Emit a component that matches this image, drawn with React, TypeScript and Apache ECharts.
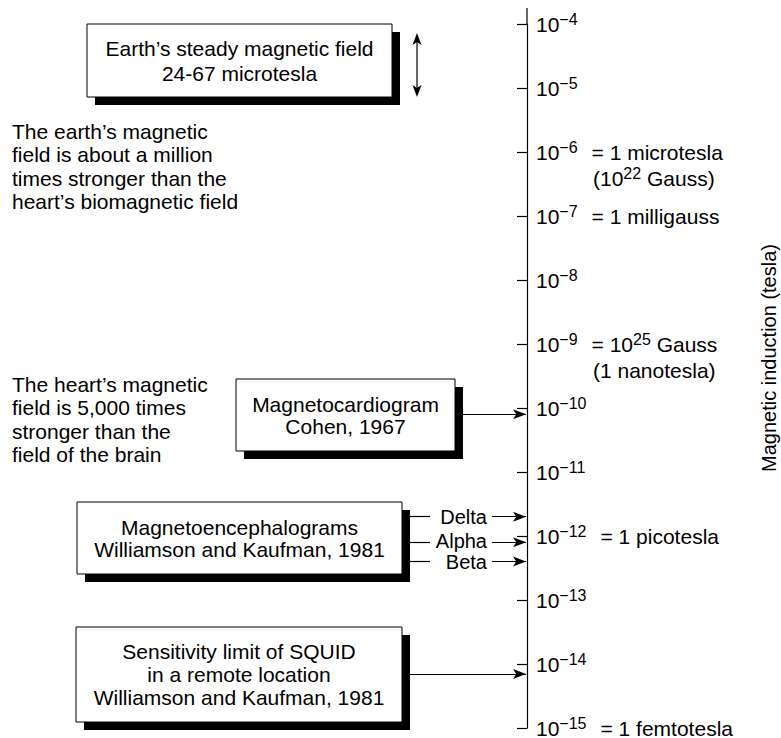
import React, { useEffect, useRef } from 'react';
import * as echarts from 'echarts';

const CHART_W = 781;
const CHART_H = 738;
const FONT = '"Liberation Sans", Arial, Helvetica, sans-serif';
const INK = '#000';

// ---------------- data ----------------
const axisMin = 1e-15;
const axisMax = 1e-4;
const axisTitle = 'Magnetic induction (tesla)';
const noteExponents = [-6, -7, -9, -12, -15];
const noteFirstLines = ['= 1 microtesla', '= 1 milligauss', '= 10^25 Gauss', '= 1 picotesla', '= 1 femtotesla'];
const noteSecondLines = ['(10^22 Gauss)', '', '(1 nanotesla)', '', ''];

const earthBoxLines = ['Earth\u2019s steady magnetic field', '24-67 microtesla'];
const earthNoteLines = ['The earth\u2019s magnetic', 'field is about a million', 'times stronger than the', 'heart\u2019s biomagnetic field'];
const heartNoteLines = ['The heart\u2019s magnetic', 'field is 5,000 times', 'stronger than the', 'field of the brain'];
const mcgBoxLines = ['Magnetocardiogram', 'Cohen, 1967'];
const mcgValue = 8e-11;
const megBoxLines = ['Magnetoencephalograms', 'Williamson and Kaufman, 1981'];
const megBands = ['Delta', 'Alpha', 'Beta'];
const megValues = [2e-12, 8e-13, 4e-13];
const squidBoxLines = ['Sensitivity limit of SQUID', 'in a remote location', 'Williamson and Kaufman, 1981'];
const squidValue = 7e-15;

// ---------------- layout ----------------
const AXIS_X = 527;
const GRID_TOP = 24;
const GRID_BOTTOM = 10;
const AXIS_TOP_Y = 8;
const SHADOW = 8;
const ARROW_TIP_X = 526;
const ARROW_W = 7.5;
const ARROW_H = 13;
const BOX_EARTH = { x: 87, y: 24, w: 305, h: 73, lh: 25 };
const BOX_MCG = { x: 236, y: 379, w: 219, h: 72, lh: 22 };
const BOX_MEG = { x: 77, y: 502, w: 325, h: 72, lh: 22 };
const BOX_SQUID = { x: 76, y: 627, w: 326, h: 95, lh: 23 };
const MEG_STUB = [410, 430];
const MEG_ARROW_START = 492;
const MEG_LABEL_DY = [0, -1, 1];
const EARTH_ARROW = { x: 417, y1: 33, y2: 97 };
const NOTE_X = 12;
const NOTE_LH = 23.3;
const EARTH_NOTE_TOP = 120;
const HEART_NOTE_TOP = 373;

const supify = (s: string) => s.replace(/\^(\d+)/g, '{ss|$1}');

function boxElements(b: { x: number; y: number; w: number; h: number; lh: number }, lines: string[]) {
  return [
    { type: 'rect', shape: { x: b.x + SHADOW, y: b.y + SHADOW, width: b.w, height: b.h }, style: { fill: INK }, silent: true },
    { type: 'rect', shape: { x: b.x, y: b.y, width: b.w, height: b.h }, style: { fill: '#fff', stroke: INK, lineWidth: 1 }, silent: true },
    {
      type: 'text', x: b.x + b.w / 2, y: b.y + b.h / 2, silent: true,
      style: { text: lines.join('\n'), fill: INK, fontSize: 21, fontFamily: FONT, align: 'center', verticalAlign: 'middle', lineHeight: b.lh },
    },
  ];
}

function noteElement(lines: string[], top: number) {
  return {
    type: 'text', x: NOTE_X, y: top, silent: true,
    style: { text: lines.join('\n'), fill: INK, fontSize: 21, fontFamily: FONT, align: 'left', verticalAlign: 'top', lineHeight: NOTE_LH },
  };
}

function arrowHead(x: number, y: number, dir: number) {
  // dir = -1 points up, 1 points down
  return {
    type: 'polygon', silent: true,
    shape: { points: [[x, y], [x - 4.5, y - dir * 12], [x, y - dir * 9], [x + 4.5, y - dir * 12]] },
    style: { fill: INK },
  };
}

function arrowLine(x1: number, x2: number, v: number, extra: any = {}) {
  return [
    { coord: [x1, v], symbol: 'none', ...extra },
    { coord: [x2, v], symbol: 'arrow' },
  ];
}

function stubLine(x1: number, x2: number, v: number) {
  return [
    { coord: [x1, v], symbol: 'none' },
    { coord: [x2, v], symbol: 'none' },
  ];
}

const markLineData: any[] = [
  arrowLine(BOX_MCG.x + BOX_MCG.w + SHADOW, ARROW_TIP_X, mcgValue),
  arrowLine(BOX_SQUID.x + BOX_SQUID.w + SHADOW, ARROW_TIP_X, squidValue),
  ...megValues.map((v) => stubLine(MEG_STUB[0], MEG_STUB[1], v)),
  ...megValues.map((v, i) =>
    arrowLine(MEG_ARROW_START, ARROW_TIP_X, v, {
      label: {
        show: true, position: 'start', formatter: megBands[i], color: INK,
        fontSize: 20, lineHeight: 17, fontFamily: FONT, distance: 5, offset: [0, MEG_LABEL_DY[i]],
      },
    })
  ),
];

function tickLabel(v: number) {
  const e = Math.round(Math.log10(v));
  const head = `10{sup|\u2212${-e}}`;
  const i = noteExponents.indexOf(e);
  if (i < 0) return head;
  const l1 = `${head}{gap| }${supify(noteFirstLines[i])}`;
  if (!noteSecondLines[i]) return l1;
  return `{ph| }\n${l1}\n{ind| }${supify(noteSecondLines[i])}`;
}

const supStyle = { fontSize: 16, lineHeight: 15, verticalAlign: 'top', color: INK, fontFamily: FONT };

export default function App() {
  const ref = useRef<HTMLDivElement>(null);
  useEffect(() => {
    document.body.style.margin = '0';
    const chart = echarts.init(ref.current!, null, { renderer: 'svg' });
    const option: any = {
      animation: false,
      backgroundColor: '#fff',
      textStyle: { fontFamily: FONT, color: INK },
      grid: {
        left: 0,
        right: CHART_W - AXIS_X,
        top: GRID_TOP,
        bottom: GRID_BOTTOM,
        containLabel: false,
        outerBoundsMode: 'none',
      },
      xAxis: { type: 'value', min: 0, max: AXIS_X, show: false },
      yAxis: {
        type: 'log',
        logBase: 10,
        min: axisMin,
        max: axisMax,
        interval: 1,
        splitNumber: 11,
        position: 'right',
        axisLine: { show: true, onZero: false, lineStyle: { color: INK, width: 1.2 } },
        axisTick: { show: true, inside: true, length: 10, lineStyle: { color: INK, width: 1.2 } },
        splitLine: { show: false },
        minorTick: { show: false },
        axisLabel: {
          show: true,
          margin: 9,
          color: INK,
          fontSize: 21,
          lineHeight: 26,
          fontFamily: FONT,
          align: 'left',
          formatter: tickLabel,
          rich: {
            sup: supStyle,
            ss: supStyle,
            gap: { width: 14 },
            ind: { width: 57 },
            ph: { lineHeight: 26 },
          },
        },
        name: axisTitle,
        nameLocation: 'middle',
        nameRotate: 90,
        nameGap: 232,
        nameTextStyle: { color: INK, fontSize: 20, lineHeight: 20, fontFamily: FONT, padding: [0, 0, 0, 36] },
      },
      series: [
        {
          type: 'line',
          data: [],
          silent: true,
          markLine: {
            silent: true,
            animation: false,
            symbol: ['none', 'arrow'],
            symbolSize: [ARROW_W, ARROW_H],
            lineStyle: { color: INK, width: 1.2, type: 'solid' },
            itemStyle: { color: INK },
            label: { show: false },
            emphasis: { disabled: true },
            data: markLineData,
          },
        },
      ],
      graphic: {
        elements: [
          { type: 'line', silent: true, shape: { x1: AXIS_X, y1: AXIS_TOP_Y, x2: AXIS_X, y2: GRID_TOP }, style: { stroke: INK, lineWidth: 1.2 } },
          ...boxElements(BOX_EARTH, earthBoxLines),
          ...boxElements(BOX_MCG, mcgBoxLines),
          ...boxElements(BOX_MEG, megBoxLines),
          ...boxElements(BOX_SQUID, squidBoxLines),
          { type: 'line', silent: true, shape: { x1: EARTH_ARROW.x, y1: EARTH_ARROW.y1 + 6, x2: EARTH_ARROW.x, y2: EARTH_ARROW.y2 - 6 }, style: { stroke: INK, lineWidth: 1.2 } },
          arrowHead(EARTH_ARROW.x, EARTH_ARROW.y1, -1),
          arrowHead(EARTH_ARROW.x, EARTH_ARROW.y2, 1),
          noteElement(earthNoteLines, EARTH_NOTE_TOP),
          noteElement(heartNoteLines, HEART_NOTE_TOP),
        ],
      },
    };
    chart.setOption(option);
    return () => chart.dispose();
  }, []);
  return <div ref={ref} style={{ width: CHART_W, height: CHART_H }} />;
}
